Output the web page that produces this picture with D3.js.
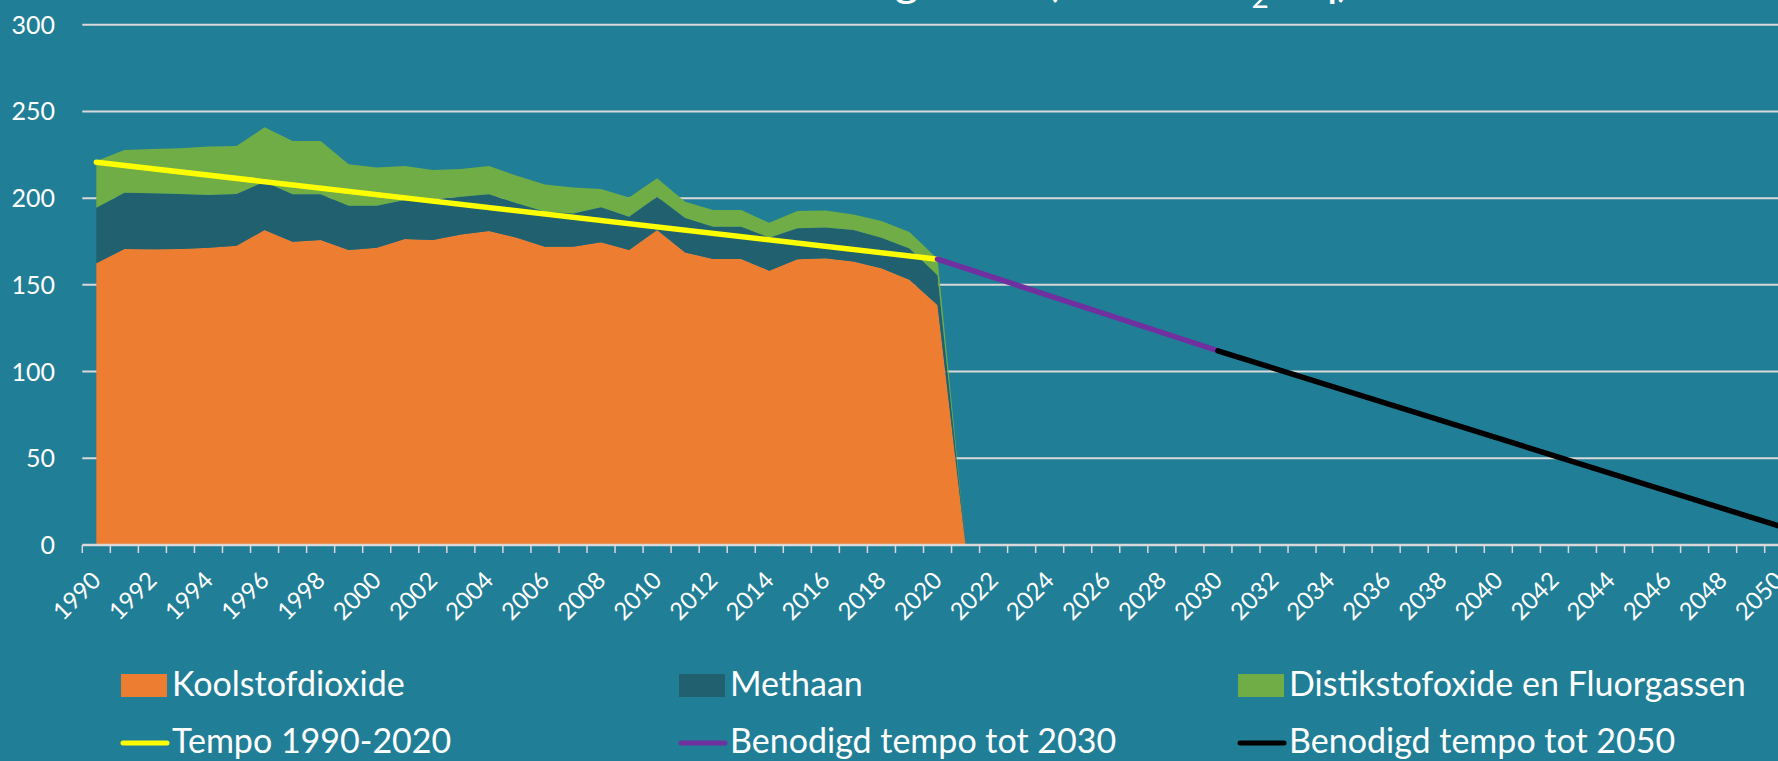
<!DOCTYPE html>
<html><head><meta charset="utf-8">
<script src="https://cdn.jsdelivr.net/npm/d3@7"></script>
<style>html,body{margin:0;padding:0;background:#207E96;overflow:hidden}svg{display:block}</style>
</head><body><svg id="c" width="1778" height="761"></svg>
<script>
// ---- data ----
const areaYears = [1990,1991,1992,1993,1994,1995,1996,1997,1998,1999,2000,2001,2002,2003,2004,2005,2006,2007,2008,2009,2010,2011,2012,2013,2014,2015,2016,2017,2018,2019,2020,2021];
const koolstofdioxide = [162.4,170.7,170.5,170.7,171.4,172.6,181.6,174.9,175.8,170.1,171.4,176.4,175.8,179.1,181.0,177.2,172.0,172.0,174.5,170.1,181.6,168.7,164.9,164.9,158.2,164.7,165.3,163.4,159.5,153.0,138.4,0];
const methaan = [32.1,32.4,32.3,31.7,30.4,29.8,27.9,27.3,26.4,25.5,24.2,22.5,23.5,21.7,21.2,19.8,20.2,19.2,20.2,19.2,19.2,19.9,18.6,18.6,19.0,17.9,17.8,18.2,17.7,18.0,17.1,0];
const distikstofFluor = [26.9,24.6,25.5,26.4,28.0,27.6,31.3,30.7,30.7,23.9,22.1,19.6,16.9,16.0,16.3,15.9,15.7,15.0,10.5,11.0,10.6,9.3,9.6,9.6,8.6,10.0,9.7,9.0,9.6,9.5,9.5,0];

const tempoYears = [1990, 2020];
const tempoValues = [220.7, 164.8];
const tempo2030Years = [2020, 2030];
const tempo2030Values = [164.8, 112.0];
const tempo2050Years = [2030, 2050];
const tempo2050Values = [112.0, 11.0];

const axisYears = [1990,1991,1992,1993,1994,1995,1996,1997,1998,1999,2000,2001,2002,2003,2004,2005,2006,2007,2008,2009,2010,2011,2012,2013,2014,2015,2016,2017,2018,2019,2020,2021,2022,2023,2024,2025,2026,2027,2028,2029,2030,2031,2032,2033,2034,2035,2036,2037,2038,2039,2040,2041,2042,2043,2044,2045,2046,2047,2048,2049,2050];
const xTickLabels = [1990,1992,1994,1996,1998,2000,2002,2004,2006,2008,2010,2012,2014,2016,2018,2020,2022,2024,2026,2028,2030,2032,2034,2036,2038,2040,2042,2044,2046,2048,2050];
const yTicks = [0,50,100,150,200,250,300];

const legendNames = ["Koolstofdioxide","Methaan","Distikstofoxide en Fluorgassen","Tempo 1990-2020","Benodigd tempo tot 2030","Benodigd tempo tot 2050"];

// ---- style ----
const W = 1778, H = 761;
const BG = "#207E96";
const C_CO2 = "#ED7D31", C_CH4 = "#21606E", C_OTH = "#70AD47";
const C_Y = "#FFFF00", C_P = "#7030A0", C_B = "#000000";
const GRID = "#D9D9D9";
const FONT = "Lato, 'Open Sans', sans-serif";

const svg = d3.select("#c");
svg.append("rect").attr("width", W).attr("height", H).attr("fill", BG);

const x = d3.scaleBand().domain(axisYears).range([82.3, 82.3 + 61 * 28.04]).paddingInner(0).paddingOuter(0);
const cx = yr => x(yr) + x.bandwidth() / 2;
const y = d3.scaleLinear().domain([0, 300]).range([545, 24.7]);

// title (mostly above the visible area, as in the reference)
const title = svg.append("text").attr("y", -4).attr("font-family", FONT).attr("font-size", 47).attr("fill", "#fff");
title.append("tspan").text("Uitstoot broeikasgassen (Mton CO");
title.append("tspan").attr("font-size", 30).attr("dy", 12).text("2");
title.append("tspan").attr("dy", -12).text("-eq)");
{
  const node = title.node();
  const full = title.text();
  const idx = full.indexOf("(");
  const pre = node.getSubStringLength(0, idx);
  title.attr("x", 1046 - pre);
}

// gridlines
svg.append("g").selectAll("line").data(yTicks.filter(d => d > 0)).join("line")
  .attr("x1", 82.3).attr("x2", W).attr("y1", d => y(d)).attr("y2", d => y(d))
  .attr("stroke", GRID).attr("stroke-width", 2);

// y labels
svg.append("g").selectAll("text").data(yTicks).join("text")
  .attr("x", 55).attr("y", d => y(d)).attr("dy", "0.36em")
  .attr("text-anchor", "end").attr("font-family", FONT).attr("font-size", 25).attr("fill", "#fff")
  .text(d => d);

// stacked areas
const rows = areaYears.map((yr, i) => ({year: yr, co2: koolstofdioxide[i], ch4: methaan[i], oth: distikstofFluor[i]}));
const stack = d3.stack().keys(["co2", "ch4", "oth"]);
const series = stack(rows);
const colors = {co2: C_CO2, ch4: C_CH4, oth: C_OTH};
const area = d3.area().x(d => cx(d.data.year)).y0(d => y(d[0])).y1(d => y(d[1]));
svg.append("g").selectAll("path").data(series).join("path")
  .attr("d", area).attr("fill", d => colors[d.key]).attr("stroke", "none");

// x axis
const xa = svg.append("g");
xa.append("line").attr("x1", x.range()[0]).attr("x2", x.range()[1]).attr("y1", 545).attr("y2", 545)
  .attr("stroke", GRID).attr("stroke-width", 2.5);
const bounds = axisYears.map(yr => x(yr)).concat([x.range()[1]]);
xa.selectAll("line.t").data(bounds).join("line").attr("class", "t")
  .attr("x1", d => d).attr("x2", d => d).attr("y1", 545).attr("y2", 553)
  .attr("stroke", GRID).attr("stroke-width", 1.5);
xa.selectAll("text").data(xTickLabels).join("text")
  .attr("transform", d => `translate(${cx(d) + 6},582) rotate(-45)`)
  .attr("text-anchor", "end").attr("font-family", FONT).attr("font-size", 24).attr("fill", "#fff")
  .text(d => d);

// lines
const line = d3.line().x(d => cx(d[0])).y(d => y(d[1]));
const lineSets = [
  [d3.zip(tempoYears, tempoValues), C_Y],
  [d3.zip(tempo2030Years, tempo2030Values), C_P],
  [d3.zip(tempo2050Years, tempo2050Values), C_B]
];
svg.append("g").selectAll("path").data(lineSets).join("path")
  .attr("d", d => line(d[0])).attr("fill", "none").attr("stroke", d => d[1])
  .attr("stroke-width", 5.5).attr("stroke-linecap", "round");

// legend
const legColX = [121, 679, 1238];
const legend = svg.append("g");
const legItems = legendNames.map((n, i) => ({name: n, col: i % 3, row: Math.floor(i / 3), color: [C_CO2, C_CH4, C_OTH, C_Y, C_P, C_B][i]}));
legItems.forEach(it => {
  const x0 = legColX[it.col];
  if (it.row === 0) {
    legend.append("rect").attr("x", x0).attr("y", 674).attr("width", 46).attr("height", 23).attr("fill", it.color);
    legend.append("text").attr("x", x0 + 51).attr("y", 696).attr("font-family", FONT).attr("font-size", 34).attr("fill", "#fff").text(it.name);
  } else {
    legend.append("line").attr("x1", x0 + 2).attr("x2", x0 + 46).attr("y1", 743).attr("y2", 743)
      .attr("stroke", it.color).attr("stroke-width", 5).attr("stroke-linecap", "round");
    legend.append("text").attr("x", x0 + 51).attr("y", 753).attr("font-family", FONT).attr("font-size", 34).attr("fill", "#fff").text(it.name);
  }
});
</script></body></html>
